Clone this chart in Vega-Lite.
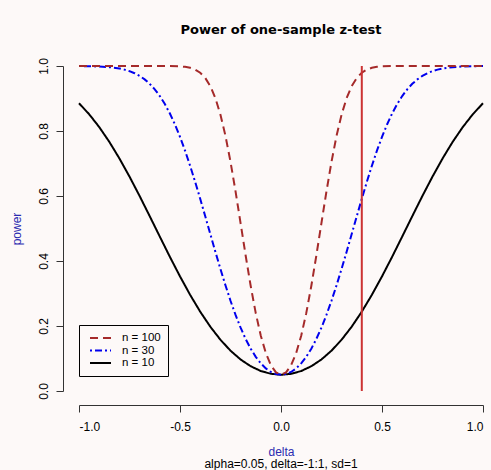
{
  "$schema": "https://vega.github.io/schema/vega-lite/v6.json",
  "width": 404,
  "height": 325,
  "autosize": {"type": "none"},
  "padding": {"left": 79, "top": 66, "right": 8, "bottom": 79},
  "background": "#fdf9f8",
  "title": {"text": "Power of one-sample z-test", "font": "DejaVu Sans", "fontSize": 13, "fontWeight": "bold", "color": "#000000", "anchor": "middle", "frame": "group", "baseline": "alphabetic", "offset": 11},
  "config": {
    "view": {"stroke": null},
    "axis": {"grid": false, "labelFont": "Liberation Sans", "labelFontSize": 12, "labelColor": "#000000", "titleFont": "Liberation Sans", "titleFontSize": 12, "titleFontWeight": "normal", "titleColor": "#2b2bb0", "domainColor": "#333333", "tickColor": "#333333", "tickSize": 7, "domainWidth": 1, "tickWidth": 1},
    "legend": {"labelFont": "Liberation Sans", "labelFontSize": 11.5, "labelColor": "#000000"}
  },
  "datasets": {
    "curves": [
      {"n": "n = 10", "delta": -1, "power": 0.8854}, {"n": "n = 10", "delta": -0.95, "power": 0.8518}, {"n": "n = 10", "delta": -0.9, "power": 0.8122}, {"n": "n = 10", "delta": -0.85, "power": 0.7667}, {"n": "n = 10", "delta": -0.8, "power": 0.7156}, {"n": "n = 10", "delta": -0.75, "power": 0.6597}, {"n": "n = 10", "delta": -0.7, "power": 0.6001}, {"n": "n = 10", "delta": -0.65, "power": 0.538}, {"n": "n = 10", "delta": -0.6, "power": 0.4751}, {"n": "n = 10", "delta": -0.55, "power": 0.4127}, {"n": "n = 10", "delta": -0.5, "power": 0.3526}, {"n": "n = 10", "delta": -0.45, "power": 0.296}, {"n": "n = 10", "delta": -0.4, "power": 0.2441}, {"n": "n = 10", "delta": -0.35, "power": 0.1979}, {"n": "n = 10", "delta": -0.3, "power": 0.1578}, {"n": "n = 10", "delta": -0.25, "power": 0.1241}, {"n": "n = 10", "delta": -0.2, "power": 0.0969}, {"n": "n = 10", "delta": -0.15, "power": 0.0762}, {"n": "n = 10", "delta": -0.1, "power": 0.0615}, {"n": "n = 10", "delta": -0.05, "power": 0.0529},
      {"n": "n = 10", "delta": 0, "power": 0.05},
      {"n": "n = 10", "delta": 0.05, "power": 0.0529}, {"n": "n = 10", "delta": 0.1, "power": 0.0615}, {"n": "n = 10", "delta": 0.15, "power": 0.0762}, {"n": "n = 10", "delta": 0.2, "power": 0.0969}, {"n": "n = 10", "delta": 0.25, "power": 0.1241}, {"n": "n = 10", "delta": 0.3, "power": 0.1578}, {"n": "n = 10", "delta": 0.35, "power": 0.1979}, {"n": "n = 10", "delta": 0.4, "power": 0.2441}, {"n": "n = 10", "delta": 0.45, "power": 0.296}, {"n": "n = 10", "delta": 0.5, "power": 0.3526}, {"n": "n = 10", "delta": 0.55, "power": 0.4127}, {"n": "n = 10", "delta": 0.6, "power": 0.4751}, {"n": "n = 10", "delta": 0.65, "power": 0.538}, {"n": "n = 10", "delta": 0.7, "power": 0.6001}, {"n": "n = 10", "delta": 0.75, "power": 0.6597}, {"n": "n = 10", "delta": 0.8, "power": 0.7156}, {"n": "n = 10", "delta": 0.85, "power": 0.7667}, {"n": "n = 10", "delta": 0.9, "power": 0.8122}, {"n": "n = 10", "delta": 0.95, "power": 0.8518}, {"n": "n = 10", "delta": 1, "power": 0.8854},

      {"n": "n = 30", "delta": -1, "power": 0.9998}, {"n": "n = 30", "delta": -0.95, "power": 0.9994}, {"n": "n = 30", "delta": -0.9, "power": 0.9985}, {"n": "n = 30", "delta": -0.85, "power": 0.9965}, {"n": "n = 30", "delta": -0.8, "power": 0.9923}, {"n": "n = 30", "delta": -0.775, "power": 0.9888}, {"n": "n = 30", "delta": -0.75, "power": 0.9841}, {"n": "n = 30", "delta": -0.725, "power": 0.9778}, {"n": "n = 30", "delta": -0.7, "power": 0.9695}, {"n": "n = 30", "delta": -0.675, "power": 0.9588}, {"n": "n = 30", "delta": -0.65, "power": 0.9452}, {"n": "n = 30", "delta": -0.625, "power": 0.9283}, {"n": "n = 30", "delta": -0.6, "power": 0.9076}, {"n": "n = 30", "delta": -0.575, "power": 0.8829}, {"n": "n = 30", "delta": -0.55, "power": 0.8537}, {"n": "n = 30", "delta": -0.525, "power": 0.82}, {"n": "n = 30", "delta": -0.5, "power": 0.7819}, {"n": "n = 30", "delta": -0.475, "power": 0.7395}, {"n": "n = 30", "delta": -0.45, "power": 0.6931}, {"n": "n = 30", "delta": -0.425, "power": 0.6435}, {"n": "n = 30", "delta": -0.4, "power": 0.5913}, {"n": "n = 30", "delta": -0.375, "power": 0.5375}, {"n": "n = 30", "delta": -0.35, "power": 0.4829}, {"n": "n = 30", "delta": -0.325, "power": 0.4287}, {"n": "n = 30", "delta": -0.3, "power": 0.3759}, {"n": "n = 30", "delta": -0.275, "power": 0.3253}, {"n": "n = 30", "delta": -0.25, "power": 0.2778}, {"n": "n = 30", "delta": -0.225, "power": 0.2342}, {"n": "n = 30", "delta": -0.2, "power": 0.1947}, {"n": "n = 30", "delta": -0.175, "power": 0.1601}, {"n": "n = 30", "delta": -0.15, "power": 0.1301}, {"n": "n = 30", "delta": -0.125, "power": 0.1052}, {"n": "n = 30", "delta": -0.1, "power": 0.085}, {"n": "n = 30", "delta": -0.075, "power": 0.0695}, {"n": "n = 30", "delta": -0.05, "power": 0.0586}, {"n": "n = 30", "delta": -0.025, "power": 0.0521},
      {"n": "n = 30", "delta": 0, "power": 0.05},
      {"n": "n = 30", "delta": 0.025, "power": 0.0521}, {"n": "n = 30", "delta": 0.05, "power": 0.0586}, {"n": "n = 30", "delta": 0.075, "power": 0.0695}, {"n": "n = 30", "delta": 0.1, "power": 0.085}, {"n": "n = 30", "delta": 0.125, "power": 0.1052}, {"n": "n = 30", "delta": 0.15, "power": 0.1301}, {"n": "n = 30", "delta": 0.175, "power": 0.1601}, {"n": "n = 30", "delta": 0.2, "power": 0.1947}, {"n": "n = 30", "delta": 0.225, "power": 0.2342}, {"n": "n = 30", "delta": 0.25, "power": 0.2778}, {"n": "n = 30", "delta": 0.275, "power": 0.3253}, {"n": "n = 30", "delta": 0.3, "power": 0.3759}, {"n": "n = 30", "delta": 0.325, "power": 0.4287}, {"n": "n = 30", "delta": 0.35, "power": 0.4829}, {"n": "n = 30", "delta": 0.375, "power": 0.5375}, {"n": "n = 30", "delta": 0.4, "power": 0.5913}, {"n": "n = 30", "delta": 0.425, "power": 0.6435}, {"n": "n = 30", "delta": 0.45, "power": 0.6931}, {"n": "n = 30", "delta": 0.475, "power": 0.7395}, {"n": "n = 30", "delta": 0.5, "power": 0.7819}, {"n": "n = 30", "delta": 0.525, "power": 0.82}, {"n": "n = 30", "delta": 0.55, "power": 0.8537}, {"n": "n = 30", "delta": 0.575, "power": 0.8829}, {"n": "n = 30", "delta": 0.6, "power": 0.9076}, {"n": "n = 30", "delta": 0.625, "power": 0.9283}, {"n": "n = 30", "delta": 0.65, "power": 0.9452}, {"n": "n = 30", "delta": 0.675, "power": 0.9588}, {"n": "n = 30", "delta": 0.7, "power": 0.9695}, {"n": "n = 30", "delta": 0.725, "power": 0.9778}, {"n": "n = 30", "delta": 0.75, "power": 0.9841}, {"n": "n = 30", "delta": 0.775, "power": 0.9888}, {"n": "n = 30", "delta": 0.8, "power": 0.9923}, {"n": "n = 30", "delta": 0.85, "power": 0.9965}, {"n": "n = 30", "delta": 0.9, "power": 0.9985}, {"n": "n = 30", "delta": 0.95, "power": 0.9994}, {"n": "n = 30", "delta": 1, "power": 0.9998},

      {"n": "n = 100", "delta": -1, "power": 1}, {"n": "n = 100", "delta": -0.9, "power": 1}, {"n": "n = 100", "delta": -0.8, "power": 1}, {"n": "n = 100", "delta": -0.7, "power": 1}, {"n": "n = 100", "delta": -0.6, "power": 1}, {"n": "n = 100", "delta": -0.55, "power": 0.9998}, {"n": "n = 100", "delta": -0.5, "power": 0.9988}, {"n": "n = 100", "delta": -0.475, "power": 0.9974}, {"n": "n = 100", "delta": -0.45, "power": 0.9945}, {"n": "n = 100", "delta": -0.425, "power": 0.989}, {"n": "n = 100", "delta": -0.4, "power": 0.9793}, {"n": "n = 100", "delta": -0.375, "power": 0.9633}, {"n": "n = 100", "delta": -0.35, "power": 0.9382}, {"n": "n = 100", "delta": -0.325, "power": 0.9015}, {"n": "n = 100", "delta": -0.3, "power": 0.8508}, {"n": "n = 100", "delta": -0.275, "power": 0.7852}, {"n": "n = 100", "delta": -0.25, "power": 0.7054}, {"n": "n = 100", "delta": -0.225, "power": 0.6141}, {"n": "n = 100", "delta": -0.2, "power": 0.516}, {"n": "n = 100", "delta": -0.175, "power": 0.4169}, {"n": "n = 100", "delta": -0.15, "power": 0.323}, {"n": "n = 100", "delta": -0.125, "power": 0.2395}, {"n": "n = 100", "delta": -0.1, "power": 0.1701}, {"n": "n = 100", "delta": -0.075, "power": 0.1165}, {"n": "n = 100", "delta": -0.05, "power": 0.0791}, {"n": "n = 100", "delta": -0.025, "power": 0.0572},
      {"n": "n = 100", "delta": 0, "power": 0.05},
      {"n": "n = 100", "delta": 0.025, "power": 0.0572}, {"n": "n = 100", "delta": 0.05, "power": 0.0791}, {"n": "n = 100", "delta": 0.075, "power": 0.1165}, {"n": "n = 100", "delta": 0.1, "power": 0.1701}, {"n": "n = 100", "delta": 0.125, "power": 0.2395}, {"n": "n = 100", "delta": 0.15, "power": 0.323}, {"n": "n = 100", "delta": 0.175, "power": 0.4169}, {"n": "n = 100", "delta": 0.2, "power": 0.516}, {"n": "n = 100", "delta": 0.225, "power": 0.6141}, {"n": "n = 100", "delta": 0.25, "power": 0.7054}, {"n": "n = 100", "delta": 0.275, "power": 0.7852}, {"n": "n = 100", "delta": 0.3, "power": 0.8508}, {"n": "n = 100", "delta": 0.325, "power": 0.9015}, {"n": "n = 100", "delta": 0.35, "power": 0.9382}, {"n": "n = 100", "delta": 0.375, "power": 0.9633}, {"n": "n = 100", "delta": 0.4, "power": 0.9793}, {"n": "n = 100", "delta": 0.425, "power": 0.989}, {"n": "n = 100", "delta": 0.45, "power": 0.9945}, {"n": "n = 100", "delta": 0.475, "power": 0.9974}, {"n": "n = 100", "delta": 0.5, "power": 0.9988}, {"n": "n = 100", "delta": 0.55, "power": 0.9998}, {"n": "n = 100", "delta": 0.6, "power": 1}, {"n": "n = 100", "delta": 0.7, "power": 1}, {"n": "n = 100", "delta": 0.8, "power": 1}, {"n": "n = 100", "delta": 0.9, "power": 1}, {"n": "n = 100", "delta": 1, "power": 1}
    ]
  },
  "layer": [
    {
      "data": {"name": "curves"},
      "mark": {"type": "line", "strokeWidth": 2, "clip": false},
      "encoding": {
        "x": {"field": "delta", "type": "quantitative", "scale": {"domain": [-1, 1], "nice": false, "zero": false},
          "axis": {"title": "delta", "values": [-1, -0.5, 0, 0.5, 1], "labelExpr": "datum.value < 0 ? '-' + format(-datum.value, '.1f') : format(datum.value, '.1f')", "offset": 14, "labelPadding": 9, "titlePadding": 14}},
        "y": {"field": "power", "type": "quantitative", "scale": {"domain": [0, 1], "nice": false, "zero": false},
          "axis": {"title": "power", "values": [0, 0.2, 0.4, 0.6, 0.8, 1], "format": ".1f", "offset": 16, "labelAngle": -90, "labelPadding": 6, "titlePadding": 14}},
        "color": {"field": "n", "type": "nominal",
          "scale": {"domain": ["n = 100", "n = 30", "n = 10"], "range": ["#a52a2a", "#0000ee", "#000000"]},
          "legend": {"title": null, "orient": "none", "legendX": 0, "legendY": 259, "strokeColor": "#000000", "padding": 7, "symbolType": "M-2.1,0H2.1", "symbolSize": 100, "symbolStrokeWidth": 2, "symbolOffset": 8.5, "labelOffset": 15.5, "rowPadding": 0.5, "cornerRadius": 0}},
        "strokeDash": {"field": "n", "type": "nominal",
          "scale": {"domain": ["n = 100", "n = 30", "n = 10"], "range": [[8, 5], [2, 3, 7, 3], [1, 0]]},
          "legend": {"title": null, "orient": "none", "legendX": 0, "legendY": 259, "strokeColor": "#000000", "padding": 7, "symbolType": "M-2.1,0H2.1", "symbolSize": 100, "symbolStrokeWidth": 2, "symbolOffset": 8.5, "labelOffset": 15.5, "rowPadding": 0.5, "cornerRadius": 0}}
      }
    },
    {
      "data": {"values": [{}]},
      "mark": {"type": "rule", "color": "#cc3333", "strokeWidth": 2},
      "encoding": {"x": {"datum": 0.4}, "y": {"datum": 0}, "y2": {"datum": 1}}
    },
    {
      "data": {"values": [{}]},
      "mark": {"type": "text", "text": "alpha=0.05, delta=-1:1, sd=1", "font": "Liberation Sans", "fontSize": 12, "color": "#000000", "baseline": "middle", "align": "center", "clip": false},
      "encoding": {"x": {"datum": 0}, "y": {"datum": -0.2246}}
    }
  ]
}
